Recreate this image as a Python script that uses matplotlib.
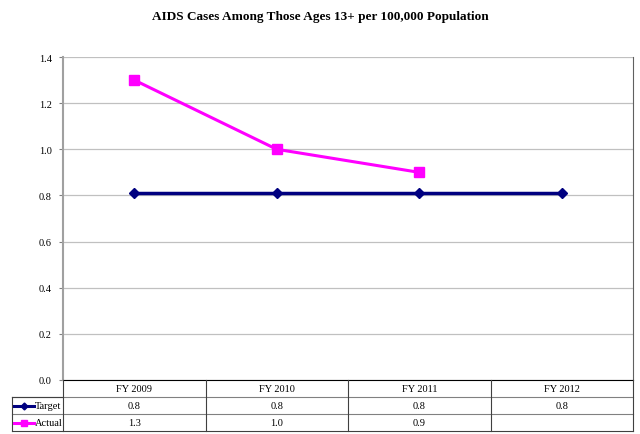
import numpy as np
import matplotlib
matplotlib.use("Agg")
import matplotlib.pyplot as plt
from matplotlib.lines import Line2D

# data
years = ["FY 2009", "FY 2010", "FY 2011", "FY 2012"]
target = [0.81, 0.81, 0.81, 0.81]
actual = [1.3, 1.0, 0.9, None]
series_names = ["Target", "Actual"]

navy = "#000080"
magenta = "#FF00FF"
serif = "Liberation Serif"

fig = plt.figure(figsize=(6.4, 4.35), dpi=100)
W, H = 640, 435

# plot area in pixel coords
px_left, px_right, px_top, px_bot = 63, 633, 58, 381
ax = fig.add_axes([px_left / W, 1 - px_bot / H,
                   (px_right - px_left) / W, (px_bot - px_top) / H])

x = np.arange(len(years))
ax.plot(x, target, color=navy, lw=2.5, marker="D", ms=5, zorder=3)
xa = [i for i, v in enumerate(actual) if v is not None]
ya = [v for v in actual if v is not None]
ax.plot(xa, ya, color=magenta, lw=2.2, marker="s", ms=7, zorder=3)

ax.set_xlim(-0.5, len(years) - 0.5)
ax.set_ylim(0, 1.4)
ax.set_yticks(np.arange(0, 1.41, 0.2))
ax.set_yticklabels(["%.1f" % t for t in np.arange(0, 1.41, 0.2)],
                   fontfamily=serif, fontsize=7.5)
ax.set_xticks([])
ax.yaxis.grid(True, color="#c0c0c0", lw=0.9)
ax.set_axisbelow(True)
ax.tick_params(axis="y", length=3, color="#808080", pad=5)
ax.spines["left"].set_color("#a0a0a0")
ax.spines["left"].set_linewidth(1.5)
ax.spines["top"].set_visible(False)
ax.spines["right"].set_color("#606060")
ax.spines["bottom"].set_color("black")

fig.suptitle("AIDS Cases Among Those Ages 13+ per 100,000 Population",
             x=0.5, y=1 - 17 / H, va="center", fontfamily=serif,
             fontweight="bold", fontsize=9.5)

# data table below the plot, drawn in figure pixel coords
def fx(p):
    return p / W

def fy(p):
    return 1 - p / H

row_y = [381, 398, 415, 432]
tab_left = 12
col_w = (px_right - px_left) / len(years)
col_x = [px_left + i * col_w for i in range(len(years) + 1)]

def hline(x0, x1, y, c="#404040", lw=0.8):
    fig.add_artist(Line2D([fx(x0), fx(x1)], [fy(y), fy(y)], color=c, lw=lw))

def vline(x0, y0, y1, c="#404040", lw=0.8):
    fig.add_artist(Line2D([fx(x0), fx(x0)], [fy(y0), fy(y1)], color=c, lw=lw))

hline(tab_left, px_right, row_y[1], c="#808080")
hline(tab_left, px_right, row_y[2], c="#808080")
hline(tab_left, px_right, row_y[3])
hline(tab_left, px_left, row_y[1])
vline(tab_left, row_y[1], row_y[3])
for cx in col_x:
    vline(cx, row_y[0], row_y[3])

for i, yr in enumerate(years):
    fig.text(fx((col_x[i] + col_x[i + 1]) / 2), fy((row_y[0] + row_y[1]) / 2),
             yr, ha="center", va="center", fontfamily=serif, fontsize=7.5)

rows = [target, actual]
colors = [navy, magenta]
markers = ["D", "s"]
for r, (name, vals) in enumerate(zip(series_names, rows)):
    yc = (row_y[r + 1] + row_y[r + 2]) / 2
    # legend key: line with a single marker in the middle
    fig.add_artist(Line2D([fx(14), fx(34)], [fy(yc), fy(yc)], color=colors[r],
                          lw=2.2))
    fig.add_artist(Line2D([fx(24)], [fy(yc)], color=colors[r], lw=0,
                          marker=markers[r], ms=3.5 if r == 0 else 5))
    fig.text(fx(34.5), fy(yc), name, ha="left", va="center",
             fontfamily=serif, fontsize=7.5)
    for i, v in enumerate(vals):
        if v is None:
            continue
        fig.text(fx((col_x[i] + col_x[i + 1]) / 2), fy(yc), "%.1f" % v,
                 ha="center", va="center", fontfamily=serif, fontsize=7.5)

fig.savefig("out.png", dpi=100)
